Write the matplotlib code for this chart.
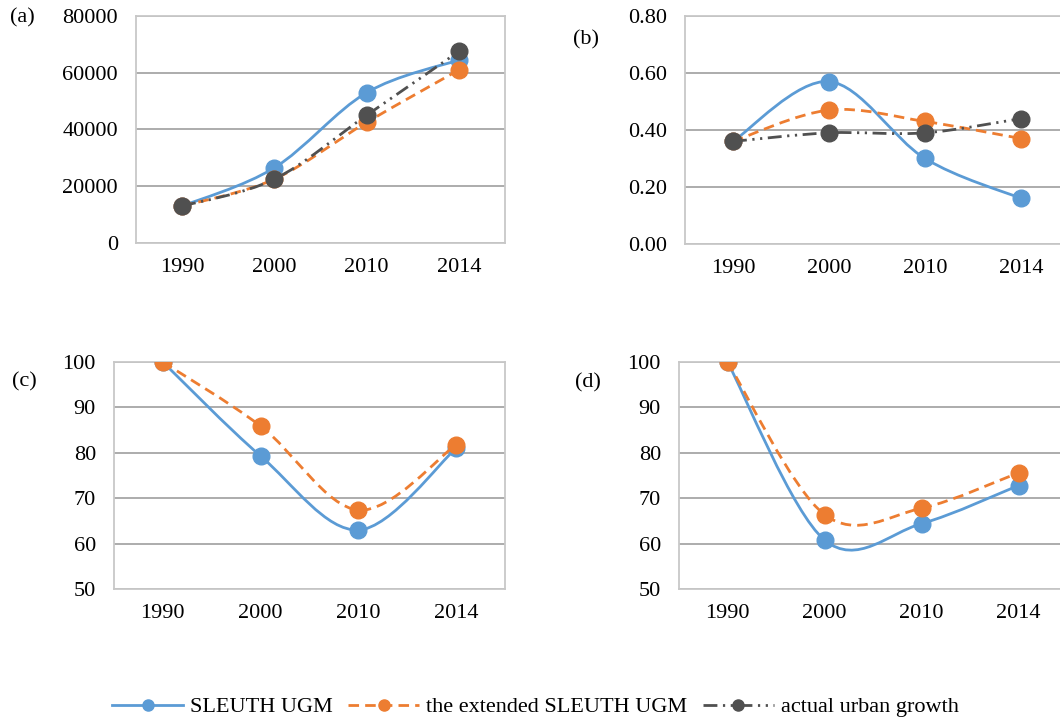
import numpy as np
import matplotlib
matplotlib.use("Agg")
import matplotlib.pyplot as plt
from matplotlib.path import Path
from matplotlib.patches import PathPatch
from matplotlib.lines import Line2D
from matplotlib.ticker import FormatStrFormatter

years = ["1990", "2000", "2010", "2014"]
series_names = ["SLEUTH UGM", "the extended SLEUTH UGM", "actual urban growth"]

# (a) urban area
a_sleuth = [13000, 26500, 53000, 64500]
a_extended = [13000, 22500, 42500, 61000]
a_actual = [13000, 22500, 45000, 67500]

# (b) ratio
b_sleuth = [0.36, 0.57, 0.30, 0.16]
b_extended = [0.36, 0.47, 0.43, 0.37]
b_actual = [0.36, 0.39, 0.39, 0.44]

# (c) and (d)
c_sleuth = [100, 79.3, 63.0, 81.0]
c_extended = [100, 85.9, 67.4, 81.8]
d_sleuth = [100, 60.8, 64.4, 72.8]
d_extended = [100, 66.4, 67.8, 75.6]

colors = ["#5B9BD5", "#ED7D31", "#505050"]
styles = ["-", (0, (3.8, 2.2)), (0, (5, 2, 0.8, 2, 0.8, 2))]

plt.rcParams['font.family'] = ['Liberation Serif', 'DejaVu Serif']
FS = 16
GRID = "#A6A6A6"
FRAME = "#C8C8C8"


def smooth_path(xs, ys):
    # excel-style smoothed line: bezier through the points
    pts = np.column_stack([xs, ys]).astype(float)
    n = len(pts)
    verts = [pts[0]]
    codes = [Path.MOVETO]
    for i in range(n - 1):
        p0 = pts[max(i - 1, 0)]
        p1 = pts[i]
        p2 = pts[i + 1]
        p3 = pts[min(i + 2, n - 1)]
        verts += [p1 + (p2 - p0) / 6, p2 - (p3 - p1) / 6, p2]
        codes += [Path.CURVE4] * 3
    return Path(verts, codes)


def panel(fig, rect, data, ylim, step, fmt):
    ax = fig.add_axes(rect)
    x = np.arange(len(years))
    for i, ys in enumerate(data):
        patch = PathPatch(smooth_path(x, ys), facecolor="none", edgecolor=colors[i],
                          lw=2.0, linestyle=styles[i], zorder=3 + 2 * i)
        patch.set_joinstyle("round")
        ax.add_patch(patch)
        ax.plot(x, ys, "o", color=colors[i], ms=12, zorder=4 + 2 * i)
    ax.set_xlim(-0.5, len(years) - 0.5)
    ax.set_ylim(*ylim)
    ax.set_yticks(np.arange(ylim[0], ylim[1] + step / 2, step))
    if fmt:
        ax.yaxis.set_major_formatter(FormatStrFormatter(fmt))
    ax.set_xticks(x)
    ax.set_xticklabels(years)
    ax.tick_params(length=0, labelsize=FS)
    ax.tick_params(axis="y", pad=13)
    ax.tick_params(axis="x", pad=11)
    ax.grid(axis="y", color=GRID, lw=1.3, zorder=0)
    ax.set_axisbelow(True)
    for s in ax.spines.values():
        s.set_color(FRAME)
        s.set_linewidth(1.3)
    return ax


fig = plt.figure(figsize=(10.6, 7.2), dpi=100)

panel(fig, [0.1283, 0.6625, 0.3481, 0.3153], [a_sleuth, a_extended, a_actual],
      (0, 80000), 20000, None)
panel(fig, [0.6462, 0.6611, 0.3623, 0.3167], [b_sleuth, b_extended, b_actual],
      (0, 0.8), 0.2, "%.2f")
panel(fig, [0.1075, 0.1819, 0.3689, 0.3153], [c_sleuth, c_extended],
      (50, 100), 10, None)
panel(fig, [0.6406, 0.1819, 0.3660, 0.3153], [d_sleuth, d_extended],
      (50, 100), 10, None)

fig.text(10 / 1060, 1 - 18 / 720, "(a)", fontsize=FS, va="center", ha="left")
fig.text(573 / 1060, 1 - 40 / 720, "(b)", fontsize=FS, va="center", ha="left")
fig.text(12 / 1060, 1 - 382 / 720, "(c)", fontsize=FS, va="center", ha="left")
fig.text(575 / 1060, 1 - 383 / 720, "(d)", fontsize=FS, va="center", ha="left")

handles = [Line2D([0], [0], color=colors[i], lw=2.0, linestyle=styles[i],
                  marker="o", ms=8) for i in range(3)]
fig.legend(handles, series_names, loc="center", bbox_to_anchor=(0.505, 0.018),
           ncol=3, frameon=False, fontsize=FS, handlelength=3.2,
           handletextpad=0.3, columnspacing=0.7, numpoints=1)

fig.savefig("out.png", dpi=100)
